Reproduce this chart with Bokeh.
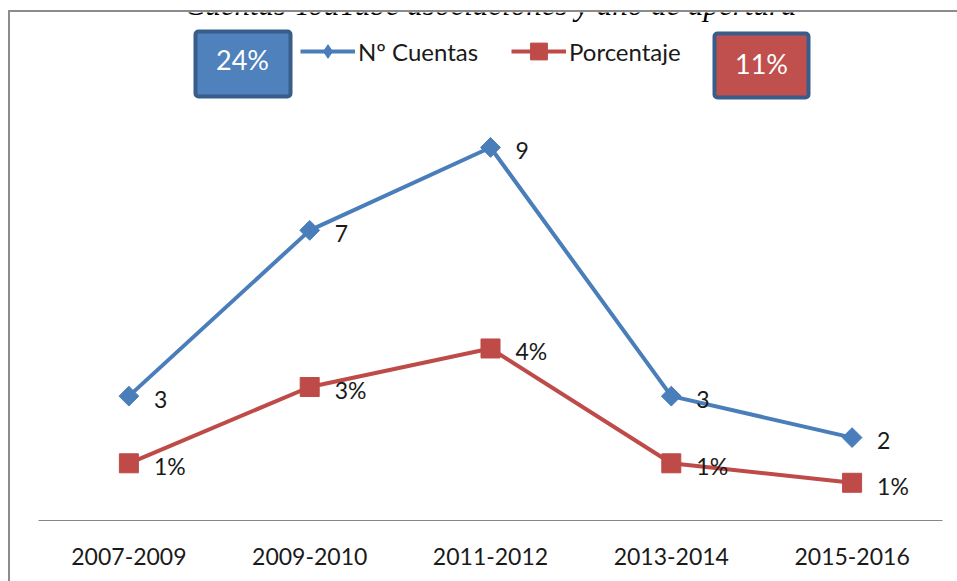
import math
from bokeh.plotting import figure
from bokeh.models import (FactorRange, Range1d, ColumnDataSource, Legend, LegendItem,
                          BoxAnnotation, Label, GlobalInlineStyleSheet)
from bokeh.core.properties import value
from bokeh.embed import file_html
from bokeh.resources import INLINE

# ---- data ----
periods = ["2007-2009", "2009-2010", "2011-2012", "2013-2014", "2015-2016"]
cuentas = [3, 7, 9, 3, 2]
porcentaje = [1.38, 3.22, 4.15, 1.38, 0.91]
cuentas_labels = ["3", "7", "9", "3", "2"]
porcentaje_labels = ["1%", "3%", "4%", "1%", "1%"]
series_names = ["Nº Cuentas", "Porcentaje"]
total_cuentas = "24%"
total_porcentaje = "11%"
title_text = "Cuentas YouTube asociaciones y año de apertura"

# ---- style ----
BLUE = "#4a7ebb"
RED = "#be4b48"
BOX_BLUE = "#4f81bd"
BOX_RED = "#c0504d"
BOX_EDGE = "#385d8a"
GRAY = "#8c8c8c"
TXT = "#1a1a1a"
FONT = "Lato"

W, H = 957, 581
FL, FR, FT, FB = 38, 942, 12, 520     # frame edges (page px)
PX_PER_UNIT = 41.45

p = figure(width=W, height=H,
           x_range=FactorRange(*periods),
           y_range=Range1d(0, (FB - FT) / PX_PER_UNIT),
           output_backend="svg", toolbar_location=None, y_axis_location=None,
           min_border_left=FL, min_border_right=W - FR,
           min_border_top=FT, min_border_bottom=H - FB)
# page: no body margin; chart-area border (only its left and top edges fall inside the view)
p.stylesheets = [GlobalInlineStyleSheet(css=(
    "html, body { margin: 0 !important; padding: 0; overflow: hidden; }\n"
    "body::after { content: ''; position: fixed; left: 8px; top: 10px; width: 3000px; height: 3000px; "
    "border-left: 2.5px solid %s; border-top: 2.5px solid %s; pointer-events: none; z-index: 1000; }"
    % (GRAY, GRAY)))]
p.outline_line_color = None
p.xgrid.visible = False
p.ygrid.visible = False
p.background_fill_color = "white"
p.border_fill_color = "white"

ax = p.xaxis[0]
ax.axis_line_color = "#868686"
ax.axis_line_width = 1
ax.major_tick_line_color = None
ax.minor_tick_line_color = None
ax.major_label_standoff = 21
ax.major_label_text_font = FONT
ax.major_label_text_font_size = "23px"
ax.major_label_text_color = TXT

src = ColumnDataSource(dict(period=periods, cuentas=cuentas, porcentaje=porcentaje,
                            cl=cuentas_labels, pl=porcentaje_labels))

l1 = p.line("period", "cuentas", source=src, line_color=BLUE, line_width=4)
m1 = p.scatter("period", "cuentas", source=src, marker="square", angle=math.pi / 4,
               size=14, fill_color=BLUE, line_color=BLUE)
# legend-only sample marker (legend glyphs ignore marker rotation)
m1_leg = p.scatter("period", "cuentas", source=src, marker="diamond",
                   fill_color=BLUE, line_color=BLUE, visible=False)
l2 = p.line("period", "porcentaje", source=src, line_color=RED, line_width=4)
m2 = p.scatter("period", "porcentaje", source=src, marker="square", size=19,
               fill_color=RED, line_color=RED)

for col, lab in (("cuentas", "cl"), ("porcentaje", "pl")):
    p.text("period", col, text=lab, source=src, x_offset=25, y_offset=3,
           text_baseline="middle", text_align="left", text_font=value(FONT),
           text_font_size="23px", text_color=TXT)

def sx(x):
    return x - FL

def sy(y):
    return FB - y

# legends
common = dict(orientation="horizontal", glyph_width=55, label_standoff=3, padding=0, margin=0,
              border_line_color=None, background_fill_alpha=0, inactive_fill_alpha=0,
              label_text_font=FONT, label_text_font_size="24px", label_text_color=TXT)
leg1 = Legend(items=[LegendItem(label=value(series_names[0]), renderers=[l1, m1_leg])],
              location=(sx(300), sy(68)), glyph_height=34, **common)
leg2 = Legend(items=[LegendItem(label=value(series_names[1]), renderers=[l2, m2])],
              location=(sx(511), sy(72)), glyph_height=42, **common)
p.add_layout(leg1)
p.add_layout(leg2)

# total boxes
for (l, r, t, b), fill in (((195, 290, 31, 96), BOX_BLUE), ((714, 808, 33, 97), BOX_RED)):
    p.add_layout(BoxAnnotation(left=sx(l), right=sx(r), top=sy(t), bottom=sy(b),
                               left_units="screen", right_units="screen",
                               top_units="screen", bottom_units="screen",
                               fill_color=fill, fill_alpha=1, line_color=BOX_EDGE,
                               line_alpha=1, line_width=4, border_radius=3, level="overlay"))

for txt, cx, cy in ((total_cuentas, 242, 59), (total_porcentaje, 761, 63)):
    p.add_layout(Label(x=sx(cx), y=sy(cy), x_units="screen", y_units="screen", text=txt,
                       text_align="center", text_baseline="middle", text_font=FONT,
                       text_font_size="27px", text_color="white", level="overlay"))

p.add_layout(Label(x=sx(490), y=sy(4), x_units="screen", y_units="screen", text=title_text,
                   text_align="center", text_baseline="alphabetic",
                   text_font="Liberation Serif", text_font_style="italic",
                   text_font_size="31px", text_color="black"))

open("out.html", "w").write(file_html(p, INLINE))
